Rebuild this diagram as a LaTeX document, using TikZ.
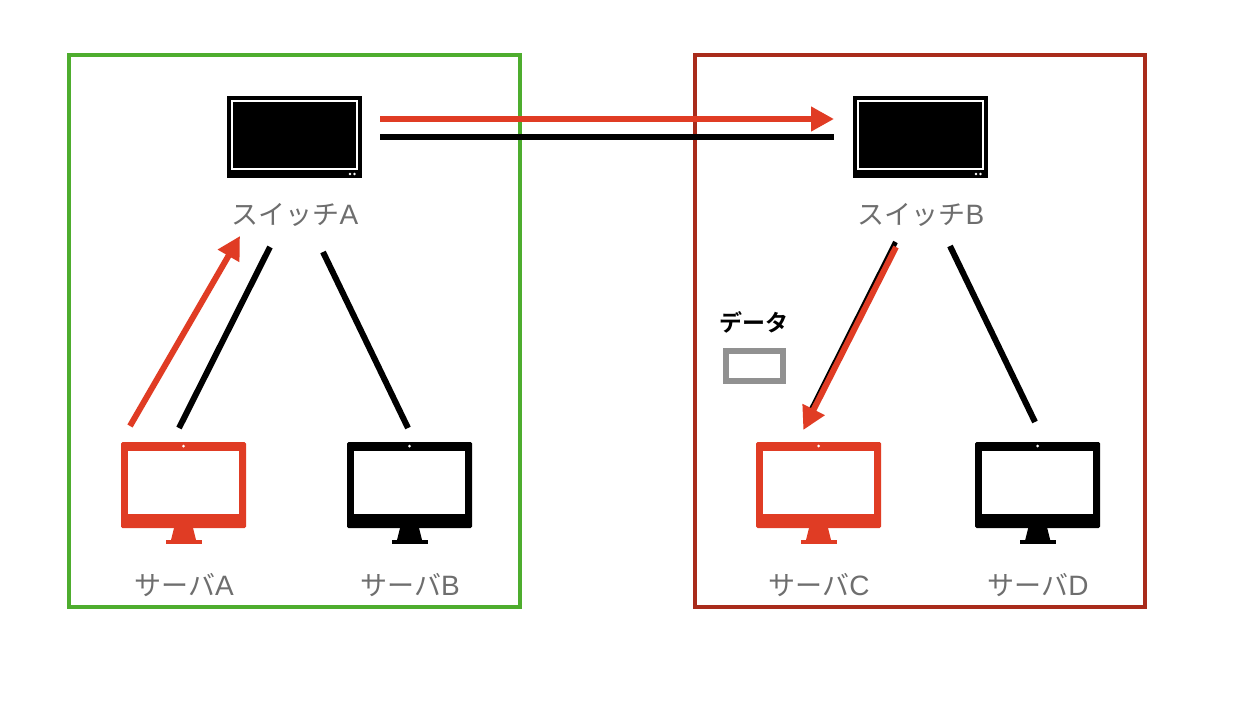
\documentclass[tikz,border=0pt]{standalone}
\usepackage{fontspec}
\usetikzlibrary{arrows.meta}
\newfontfamily\jpfont{Noto Sans CJK JP}[BoldFont={Noto Sans CJK JP Bold}]
\newfontfamily\latfont{Liberation Sans}
\definecolor{redc}{HTML}{E03C24}
\definecolor{greenc}{HTML}{4EAD2E}
\definecolor{darkredc}{HTML}{A92B1B}
\definecolor{labelc}{HTML}{6E6E6E}
\definecolor{grayc}{HTML}{919191}
\newcommand{\lat}[1]{{\latfont\fontsize{28}{30}\selectfont #1}}
\tikzset{
  lbl/.style={font=\jpfont\fontsize{27}{30}\selectfont, text=labelc, inner sep=0pt},
  frame/.style={draw=#1, line width=4.5pt, fill=none},
  link/.style={draw=black, line width=6pt},
  flow/.style={draw=redc, line width=6pt, -{Triangle[length=23pt,width=23.5pt]}},
  pics/monitor/.style={code={
    \fill[#1, rounded corners=1.5pt] (0,0) rectangle (125,86);
    \fill[white] (7,9) rectangle (118,72);
    \fill[white] (62.5,4) circle (1.5);
    \fill[#1] (53,86) -- (72,86) -- (75,98) -- (50,98) -- cycle;
    \fill[#1] (45,98) rectangle (81,102);
  }},
  pics/switchbox/.style={code={
    \fill[black] (0,0) rectangle (134.5,82);
    \draw[white, line width=2pt] (4.5,5) rectangle (130,73);
    \fill[white] (123,78) circle (1.4);
    \fill[white] (127.5,78) circle (1.4);
  }}
}
\begin{document}
\begin{tikzpicture}[x=1pt,y=-1pt]
\useasboundingbox (0,0) rectangle (1254,704);
\fill[white] (0,0) rectangle (1254,704);
% frames
\node[frame=greenc, minimum width=451pt, minimum height=552pt, inner sep=0pt] (groupL) at (294.5,331) {};
\node[frame=darkredc, minimum width=450pt, minimum height=552pt, inner sep=0pt] (groupR) at (920,331) {};
% devices
\pic at (227,96) {switchbox};
\pic at (853,96) {switchbox};
\pic at (121,442) {monitor=redc};
\pic at (347,442) {monitor=black};
\pic at (756,442) {monitor=redc};
\pic at (975.2,442) {monitor=black};
% labels
\node[lbl] (swA) at (295,215) {スイッチ\lat{A}};
\node[lbl] (swB) at (921,215) {スイッチ\lat{B}};
\node[lbl] (srvA) at (184,585) {サーバ\lat{A}};
\node[lbl] (srvB) at (410,585) {サーバ\lat{B}};
\node[lbl] (srvC) at (819,585) {サーバ\lat{C}};
\node[lbl] (srvD) at (1038,585) {サーバ\lat{D}};
% data
\node[font=\jpfont\bfseries\fontsize{23}{25}\selectfont, inner sep=0pt] (dataL) at (754,322) {データ};
\node[draw=grayc, line width=6pt, fill=white, minimum width=57pt, minimum height=30pt, inner sep=0pt] (dataBox) at (754.5,366) {};
% connector ends
\coordinate (a1) at (179,428); \coordinate (a2) at (270,247);
\coordinate (b1) at (408,428); \coordinate (b2) at (323,252);
\coordinate (ra1) at (130,426); \coordinate (ra2) at (240,236);
\coordinate (h1) at (380,137); \coordinate (h2) at (834,137);
\coordinate (rh1) at (380,119); \coordinate (rh2) at (834,119);
\coordinate (c1) at (895.5,242); \coordinate (c2) at (807,418);
\coordinate (rc1) at (896,247); \coordinate (rc2) at (803.3,430);
\coordinate (d1) at (1035,422); \coordinate (d2) at (950,246);
% connectors
\draw[link] (a1) -- (a2);
\draw[link] (b1) -- (b2);
\draw[link] (d1) -- (d2);
\draw[link] (h1) -- (h2);
\draw[link, line width=5pt] (c1) -- (c2);
\draw[flow] (ra1) -- (ra2);
\draw[flow] (rh1) -- (rh2);
\draw[flow] (rc1) -- (rc2);
\end{tikzpicture}
\end{document}
